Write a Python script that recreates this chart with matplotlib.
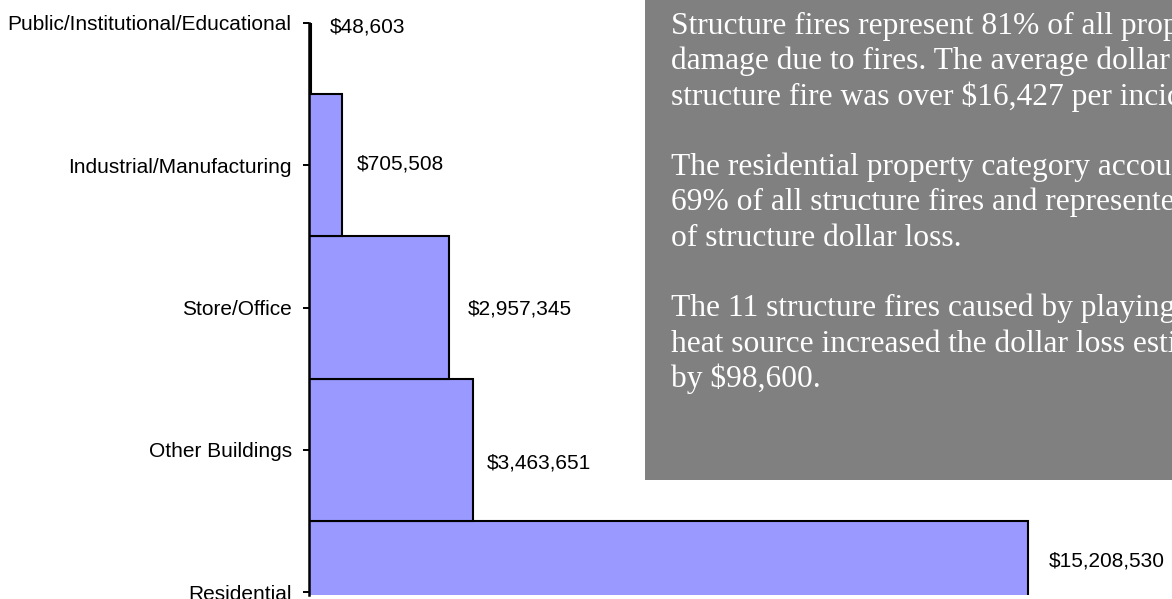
import matplotlib.pyplot as plt
from matplotlib.patches import Rectangle

# property categories, bottom to top
categories = ['Residential', 'Other Buildings', 'Store/Office',
              'Industrial/Manufacturing', 'Public/Institutional/Educational']
dollar_loss = [15208530, 3463651, 2957345, 705508, 48603]

note_lines = [
    'Structure fires represent 81% of all property',
    'damage due to fires. The average dollar loss per',
    'structure fire was over $16,427 per incident.',
    '',
    'The residential property category accounted for',
    '69% of all structure fires and represented 67%',
    'of structure dollar loss.',
    '',
    'The 11 structure fires caused by playing with a',
    'heat source increased the dollar loss estimate',
    'by $98,600.',
]

# label nudges (pixels) to mimic where the original placed the values
label_dx = [21, 14, 19, 14, 18]
label_dy = [31, -13, -1, 1, -4]

W, H = 1172, 599
fig = plt.figure(figsize=(W / 100, H / 100), dpi=100)
ax = fig.add_axes([309 / W, 1 - 595 / H, 1 - 309 / W, (595 - 23) / H])

ypos = list(range(len(categories)))
ax.barh(ypos, dollar_loss, height=1.0, color='#9999ff',
        edgecolor='black', linewidth=1.5)

ax.set_xlim(0, 863 / 4.725e-5)
ax.set_ylim(-0.02, 4)
ax.set_yticks(ypos)
ax.set_yticklabels(categories, fontsize=15, family='Liberation Sans')
ax.tick_params(axis='y', length=4.5, width=1.4, pad=8, color='black')
ax.set_xticks([])
for side in ['top', 'right', 'bottom']:
    ax.spines[side].set_visible(False)
ax.spines['left'].set_linewidth(1.8)

for y, v, dx, dy in zip(ypos, dollar_loss, label_dx, label_dy):
    ax.annotate(f'${v:,}', xy=(v, y), xytext=(dx, dy),
                textcoords='offset pixels', ha='left', va='center',
                fontsize=15, family='Liberation Sans', annotation_clip=False)

# grey text box on the right
fig.patches.append(Rectangle((645 / W, 1 - 480 / H), 1 - 645 / W, 480 / H,
                             transform=fig.transFigure, facecolor='#808080',
                             edgecolor='none', zorder=5))
for i, line in enumerate(note_lines):
    fig.text(671 / W, 1 - (34 + i * 35.3) / H, line, color='white',
             fontsize=22.7, family='Liberation Serif', va='baseline',
             ha='left', zorder=6)

fig.savefig('out.png', dpi=100)
